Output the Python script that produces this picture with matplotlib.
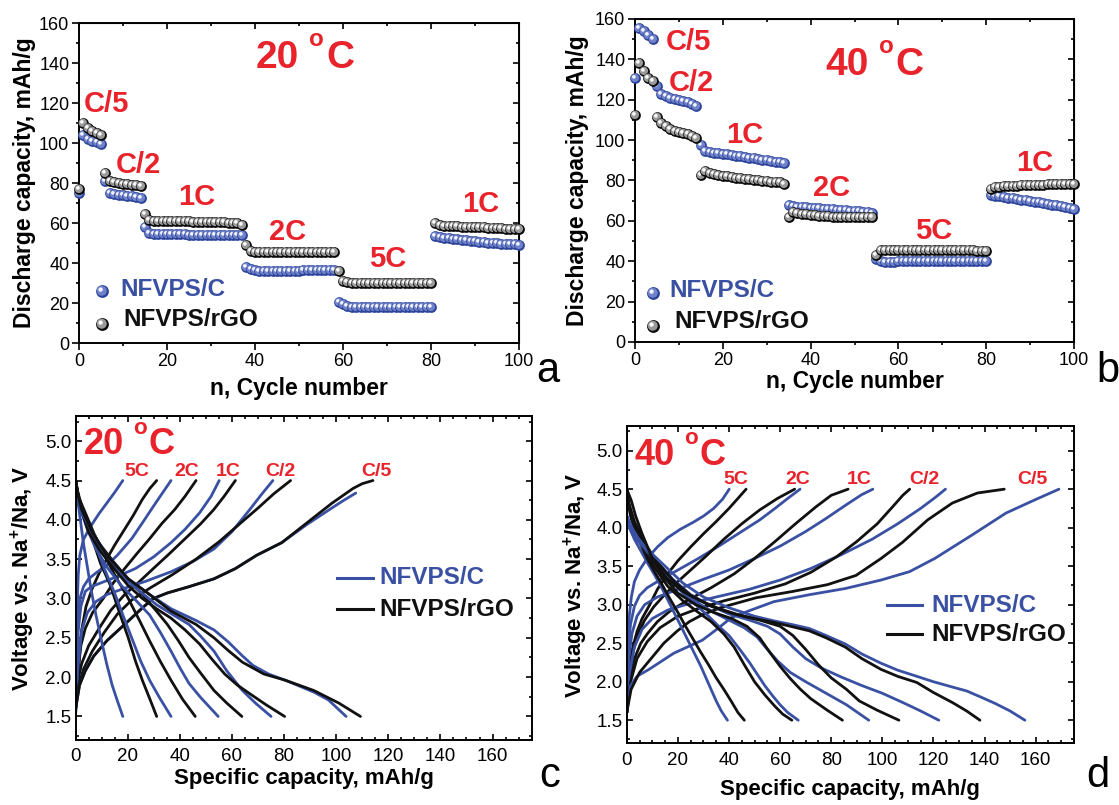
import numpy as np
import matplotlib
matplotlib.use('Agg')
import matplotlib.pyplot as plt
from matplotlib.path import Path
from matplotlib.ticker import MultipleLocator, FormatStrFormatter

plt.rcParams['font.family'] = ['Liberation Sans', 'DejaVu Sans']
plt.rcParams['mathtext.fontset'] = 'custom'
plt.rcParams['mathtext.rm'] = 'Liberation Sans'
plt.rcParams['mathtext.bf'] = 'Liberation Sans:bold'

RED = '#e8232b'
BLUE = '#3a51a3'
BLACK = '#111111'

# ---- rate capability, 20 C (cycle 0 is the first formation point) ----
rate20_nc = ([75] +
             [104, 102, 101, 100.5, 99.5] +
             [81, 75, 74.5, 74, 74, 73.5, 73.5, 73, 72.5] +
             [58, 55, 54.5, 54.5, 54.5, 54.5, 54.5, 54.5, 54.5, 54.5, 54, 54,
              54, 54, 54, 54, 54, 54, 54, 54, 54, 54, 54] +
             [38, 37, 36.5, 36, 36, 36, 36, 36, 36, 36, 36, 36, 36, 36.5, 36.5,
              36.5, 36.5, 36.5, 36.5, 36.5, 36.5] +
             [20.5, 19.5, 18.5, 18, 18, 18, 18, 18, 18, 18, 18, 18, 18, 18, 18,
              18, 18, 18, 18, 18, 18, 18] +
             [53.5, 53, 52.5, 52.5, 52, 52, 51.5, 51.5, 51, 51, 50.5, 50.5, 50,
              50, 50, 49.5, 49.5, 49.5, 49.5, 49])
rate20_ngo = ([77] +
              [110, 107.5, 106, 105, 104] +
              [85, 81, 80.5, 80, 79.5, 79.5, 79, 79, 78.5] +
              [64.5, 61.5, 61, 61, 61, 61, 61, 61, 61, 61, 61, 60.5, 60.5, 60.5,
               60.5, 60.5, 60.5, 60.5, 60.5, 60, 60, 60, 59] +
              [49, 46, 45.5, 45.5, 45.5, 45.5, 45.5, 45.5, 45.5, 45.5, 45.5,
               45.5, 45.5, 45.5, 45.5, 45.5, 45.5, 45.5, 45.5, 45.5, 45.5] +
              [36, 31, 30.5, 30, 30, 30, 30, 30, 30, 30, 30, 30, 30, 30, 30, 30,
               30, 30, 30, 30, 30, 30] +
              [60, 59, 58.5, 58.5, 58.5, 58.5, 58, 58, 58, 58, 58, 58, 57.5,
               57.5, 57.5, 57.5, 57, 57, 57, 57])

# ---- rate capability, 40 C ----
rate40_nc = ([131] +
             [155.5, 154, 152, 150] +
             [127, 123, 122, 121, 120.5, 120, 119.5, 119, 118, 117] +
             [97.5, 94.5, 94, 93.5, 93.5, 93, 93, 92.5, 92, 92, 91.5, 91, 91,
              90.5, 90, 90, 89.5, 89, 89, 88.5] +
             [68, 67.5, 67, 67, 67, 66.5, 66.5, 66.5, 66, 66, 66, 65.5, 65.5,
              65.5, 65, 65, 65, 64.5, 64.5, 64] +
             [41, 40, 39.5, 39.5, 39.5, 40, 40, 40, 40, 40, 40, 40, 40, 40, 40,
              40, 40, 40, 40, 40, 40, 40, 40, 40, 40, 40] +
             [73, 72.5, 72.5, 72, 71.5, 71.5, 71, 70.5, 70.5, 70, 69.5, 69.5, 69,
              68.5, 68, 68, 67.5, 67, 66.5, 66])
rate40_ngo = ([112.5] +
              [138, 134, 131, 129.5] +
              [111.5, 108.5, 107, 105.5, 104.5, 104, 103.5, 103, 102, 101] +
              [82.5, 84.5, 83.5, 83, 82.5, 82, 82, 81.5, 81, 81, 80.5, 80.5, 80,
               80, 79.5, 79.5, 79, 79, 79, 78.5] +
              [62, 64.5, 64, 63.5, 63.5, 63, 63, 62.5, 62.5, 62.5, 62, 62, 62,
               62, 62, 62, 62, 62, 62, 62] +
              [43, 45.5, 45.5, 45.5, 45.5, 45.5, 45.5, 45.5, 45.5, 45.5, 45.5,
               45.5, 45.5, 45.5, 45.5, 45.5, 45.5, 45.5, 45.5, 45.5, 45.5, 45.5,
               45.5, 45, 45, 45] +
              [76, 77, 77, 77.5, 77.5, 77.5, 77.5, 78, 78, 78, 78, 78, 78, 78.5,
               78.5, 78.5, 78.5, 78.5, 78.5, 78.5])

rate_names = ['5C', '2C', '1C', 'C/2', 'C/5']

# ---- charge / discharge profiles, (capacity mAh/g, voltage V), order 5C..C/5 ----
chg20_nc = [
    [(0, 1.55), (0.2, 2.2), (0.5, 2.8), (1.0, 3.3), (1.6, 3.55), (3.0, 3.75), (5.8, 3.92),
     (9, 4.08), (11.9, 4.21), (15, 4.35), (18.1, 4.5)],
    [(0, 1.55), (0.4, 2.3), (1.0, 2.75), (1.6, 3.0), (3, 3.15), (5, 3.25), (8, 3.33),
     (11.9, 3.42), (16, 3.55), (21.5, 3.76), (26, 3.98), (29.8, 4.17), (33.5, 4.35), (36.6, 4.5)],
    [(0, 1.55), (0.5, 2.2), (1.0, 2.59), (2, 2.9), (3.7, 3.09), (6, 3.15), (10.6, 3.21),
     (16, 3.28), (22.9, 3.38), (30, 3.53), (36.6, 3.71), (42, 3.88), (47.6, 4.09), (52, 4.3),
     (55.1, 4.5)],
    [(0, 1.55), (0.8, 2.1), (2.3, 2.59), (4.5, 2.82), (7.8, 2.96), (12, 3.05), (18.8, 3.13),
     (27, 3.22), (36.6, 3.34), (45, 3.47), (53.1, 3.63), (60, 3.85), (66.8, 4.13), (71.5, 4.33),
     (75.7, 4.5)],
    [(0, 1.6), (1.5, 1.9), (3.7, 2.08), (7, 2.27), (11.9, 2.46), (18.8, 2.67), (25.6, 2.88),
     (29.8, 3.0), (35.2, 3.07), (43.5, 3.15), (53.1, 3.25), (61.3, 3.38), (69.5, 3.55),
     (79.1, 3.71), (88.7, 3.94), (98.3, 4.15), (103, 4.25), (107.5, 4.34)],
]
chg20_ngo = [
    [(0, 1.6), (0.8, 2.0), (2.3, 2.6), (4, 2.9), (6.4, 3.13), (9, 3.32), (11.9, 3.5),
     (15, 3.68), (18.8, 3.88), (22, 4.05), (25.6, 4.26), (28.5, 4.4), (31.1, 4.5)],
    [(0, 1.6), (1, 2.1), (2, 2.4), (3.7, 2.62), (6.5, 2.82), (10.6, 3.0), (14.5, 3.2),
     (18.8, 3.38), (23.5, 3.57), (28.4, 3.76), (33, 3.95), (38, 4.13), (42, 4.3), (46.2, 4.5)],
    [(0, 1.6), (0.8, 1.95), (2.3, 2.17), (5, 2.4), (9.2, 2.63), (13.5, 2.85), (18.8, 3.05),
     (24, 3.2), (29.8, 3.38), (36, 3.57), (42, 3.76), (48, 3.95), (53, 4.13), (57, 4.3),
     (61.3, 4.5)],
    [(0, 1.6), (1.2, 1.9), (3, 2.1), (6.4, 2.33), (11, 2.57), (16, 2.8), (21.5, 2.98),
     (28.4, 3.13), (37, 3.3), (46.2, 3.5), (55, 3.72), (63, 3.95), (70, 4.15), (76, 4.33),
     (82.5, 4.5)],
    [(0, 1.6), (1.5, 1.9), (3.7, 2.08), (7, 2.27), (11.9, 2.46), (18.8, 2.67), (25.6, 2.88),
     (29.8, 3.0), (35.2, 3.07), (43.5, 3.15), (53.1, 3.25), (61.3, 3.38), (69.5, 3.55),
     (79.1, 3.71), (88.7, 3.96), (98.3, 4.21), (106.5, 4.4), (110, 4.46), (114.1, 4.5)],
]
dis20_nc = [
    [(0, 5.08), (0, 4.47), (0.6, 4.3), (1.6, 4.05), (3, 3.7), (4.4, 3.42), (6, 3.1),
     (7.8, 2.79), (9.8, 2.48), (11.9, 2.17), (14, 1.9), (16, 1.7), (18.1, 1.5)],
    [(0, 4.45), (1, 4.3), (2.3, 4.17), (4.5, 3.95), (7.8, 3.67), (11, 3.38), (14.7, 3.09),
     (18, 2.8), (21.5, 2.5), (25, 2.2), (28.4, 1.96), (32, 1.75), (36.6, 1.5)],
    [(0, 4.45), (1, 4.25), (2.3, 4.09), (4.5, 3.88), (7.8, 3.63), (12, 3.4), (17.4, 3.17),
     (23, 2.98), (28.4, 2.79), (32.5, 2.57), (36.6, 2.33), (40, 2.12), (43.5, 1.92),
     (48, 1.74), (54.7, 1.5)],
    [(0, 4.45), (1, 4.27), (2.3, 4.13), (4.5, 3.93), (7.8, 3.71), (12.5, 3.48), (18.8, 3.25),
     (25, 3.08), (31.1, 2.92), (37, 2.8), (43.5, 2.67), (48, 2.52), (53.1, 2.33), (58, 2.08),
     (64, 1.83), (69, 1.67), (75, 1.5)],
    [(0, 4.45), (1, 4.25), (2.3, 4.1), (6.4, 3.84), (11.9, 3.55), (20.2, 3.25), (28.4, 3.05),
     (36.6, 2.87), (46.2, 2.72), (53.1, 2.6), (58.5, 2.45), (64, 2.27), (68, 2.15), (74, 2.04),
     (80.5, 1.96), (91.4, 1.81), (97, 1.71), (103.8, 1.5)],
]
dis20_ngo = [
    [(0, 4.5), (0.5, 4.4), (1.6, 4.26), (3.5, 4.02), (6.4, 3.76), (9.5, 3.45), (13.3, 3.17),
     (16.5, 2.85), (20.2, 2.5), (23, 2.2), (25.6, 1.96), (28.5, 1.72), (31.1, 1.5)],
    [(0, 4.5), (1, 4.3), (3.7, 4.09), (7, 3.83), (10.6, 3.58), (15, 3.3), (20.2, 3.0),
     (24.5, 2.72), (28.4, 2.46), (32.5, 2.2), (36.6, 1.96), (41, 1.72), (45.9, 1.5)],
    [(0, 4.5), (1.5, 4.2), (5, 3.92), (9.5, 3.68), (14.7, 3.46), (20, 3.25), (25.6, 3.05),
     (30.5, 2.86), (35.2, 2.67), (39.5, 2.46), (43.5, 2.25), (48, 2.05), (53.1, 1.83),
     (58, 1.67), (63.8, 1.5)],
    [(0, 4.5), (1.5, 4.2), (5, 3.84), (9.5, 3.6), (14.7, 3.38), (20, 3.17), (25.6, 3.0),
     (31, 2.87), (36.6, 2.75), (42, 2.6), (47.6, 2.42), (52.5, 2.22), (57.2, 2.04), (62, 1.9),
     (66.8, 1.79), (73, 1.65), (80.2, 1.5)],
    [(0, 4.5), (1, 4.3), (2.3, 4.13), (6.4, 3.84), (11.9, 3.55), (20.2, 3.25), (28.4, 3.05),
     (36.6, 2.84), (46.2, 2.67), (53.1, 2.5), (58.5, 2.34), (64, 2.19), (72.2, 2.04),
     (80.5, 1.96), (91.4, 1.83), (101, 1.67), (109.3, 1.5)],
]

chg40_nc = [
    [(0, 1.6), (0.3, 2.3), (0.8, 2.8), (1.8, 3.1), (3, 3.3), (5, 3.45), (8, 3.6), (12, 3.75),
     (16, 3.87), (21, 3.98), (26, 4.07), (30, 4.15), (34, 4.25), (37.5, 4.37), (40.1, 4.5)],
    [(0, 1.6), (0.5, 2.4), (1.5, 2.75), (3, 2.98), (5, 3.12), (8, 3.22), (13, 3.32), (20, 3.45),
     (28, 3.6), (36, 3.76), (44, 3.93), (52, 4.1), (58, 4.25), (63, 4.38), (67.8, 4.5)],
    [(0, 1.6), (0.8, 2.3), (2, 2.62), (4, 2.85), (7, 3.0), (12, 3.1), (20, 3.2), (30, 3.33),
     (40, 3.45), (50, 3.6), (60, 3.76), (70, 3.95), (78, 4.12), (86, 4.3), (92, 4.43),
     (96.3, 4.5)],
    [(0, 1.6), (1, 2.1), (3, 2.45), (6, 2.68), (10, 2.82), (16, 2.93), (25, 3.02), (35, 3.1),
     (48, 3.2), (60, 3.32), (72, 3.47), (84, 3.65), (96, 3.85), (106, 4.05), (115, 4.25),
     (121, 4.4), (124.7, 4.5)],
    [(0, 1.6), (1.5, 1.95), (4, 2.07), (8.7, 2.16), (18.4, 2.37), (29.6, 2.54), (36, 2.7),
     (40.8, 2.83), (47.8, 2.92), (57.6, 3.04), (71.5, 3.13), (85.5, 3.21), (99.5, 3.32),
     (110.7, 3.43), (120.5, 3.6), (134.4, 3.89), (148.4, 4.19), (159.6, 4.36), (169.1, 4.5)],
]
chg40_ngo = [
    [(0, 1.6), (0.8, 2.1), (2, 2.4), (4, 2.65), (6, 2.82), (9, 3.0), (12, 3.2), (16, 3.4),
     (20, 3.57), (25, 3.75), (30, 3.92), (35, 4.08), (40, 4.25), (43.5, 4.38), (46.7, 4.5)],
    [(0, 1.6), (1, 2.05), (2.5, 2.4), (4.5, 2.62), (7, 2.8), (10.5, 2.97), (14, 3.1),
     (19, 3.27), (25, 3.45), (31, 3.63), (38, 3.85), (45, 4.05), (52, 4.23), (59, 4.38),
     (65.7, 4.5)],
    [(0, 1.6), (1, 2.0), (3, 2.3), (5.5, 2.5), (8, 2.62), (12, 2.78), (17, 2.92), (25, 3.08),
     (33, 3.22), (42, 3.4), (50, 3.6), (58, 3.82), (66, 4.05), (74, 4.27), (80, 4.42),
     (86.6, 4.5)],
    [(0, 1.6), (1.5, 2.0), (4, 2.3), (8, 2.52), (13, 2.7), (20, 2.85), (28, 2.95), (38, 3.05),
     (50, 3.15), (62, 3.27), (72, 3.42), (82, 3.62), (90, 3.82), (98, 4.05), (104, 4.27),
     (108, 4.42), (110.7, 4.5)],
    [(0, 1.6), (1.7, 1.9), (5, 2.12), (10, 2.32), (14.5, 2.5), (19.8, 2.66), (24.5, 2.78),
     (29.6, 2.87), (36.6, 2.96), (50.6, 3.09), (64.6, 3.17), (78.5, 3.26), (89.7, 3.38),
     (99.5, 3.6), (107.9, 3.81), (117.7, 4.1), (127.4, 4.32), (137.2, 4.45), (147.7, 4.5)],
]
dis40_nc = [
    [(0, 5.08), (0, 4.15), (1, 4.0), (3, 3.85), (5.5, 3.7), (8, 3.55), (11, 3.38), (14, 3.2),
     (17, 3.0), (20, 2.8), (23, 2.6), (26, 2.4), (29, 2.2), (31, 2.05), (33, 1.9), (35, 1.75),
     (37, 1.62), (39.4, 1.5)],
    [(0, 4.15), (1.5, 4.0), (4, 3.85), (8, 3.67), (12, 3.5), (17, 3.32), (22, 3.15), (27, 3.0),
     (32, 2.85), (36, 2.72), (40, 2.6), (44, 2.43), (48, 2.25), (51, 2.1), (54, 1.95),
     (57, 1.82), (60, 1.7), (63, 1.6), (67.1, 1.5)],
    [(0, 4.15), (2, 3.98), (5, 3.82), (10, 3.6), (15, 3.4), (21, 3.2), (28, 3.02), (34, 2.9),
     (40, 2.8), (46, 2.7), (51, 2.58), (55, 2.42), (59, 2.27), (64, 2.12), (70, 2.0),
     (78, 1.85), (86, 1.7), (94.7, 1.5)],
    [(0, 4.15), (2, 4.0), (6, 3.78), (12, 3.55), (18, 3.33), (25, 3.13), (32, 3.0), (40, 2.88),
     (48, 2.8), (55, 2.72), (60, 2.62), (65, 2.45), (70, 2.3), (76, 2.18), (84, 2.06),
     (92, 1.95), (100, 1.85), (108, 1.73), (115, 1.62), (122.1, 1.5)],
    [(0, 4.15), (3, 3.92), (8, 3.72), (15, 3.5), (22, 3.28), (30, 3.1), (40, 2.96), (50, 2.85),
     (57.6, 2.79), (65, 2.74), (71.5, 2.69), (78, 2.6), (85.5, 2.49), (92, 2.36), (99.5, 2.24),
     (106, 2.15), (113.5, 2.07), (120, 2.0), (127.5, 1.93), (133, 1.88), (138.6, 1.8),
     (144, 1.72), (150, 1.62), (155.8, 1.5)],
]
dis40_ngo = [
    [(0, 4.5), (0.5, 4.35), (1.5, 4.15), (3, 4.0), (5, 3.82), (8, 3.6), (11, 3.42), (14, 3.25),
     (17, 3.07), (20, 2.9), (23, 2.72), (26, 2.55), (29, 2.38), (32, 2.22), (35, 2.05),
     (38, 1.9), (41, 1.74), (43.5, 1.6), (46, 1.5)],
    [(0, 4.5), (0.7, 4.3), (2, 4.1), (4, 3.92), (7, 3.7), (11, 3.48), (16, 3.24), (22, 3.05),
     (28, 2.9), (33, 2.78), (38, 2.62), (42, 2.45), (46, 2.22), (50, 2.0), (54, 1.83),
     (58, 1.68), (61, 1.58), (64.6, 1.5)],
    [(0, 4.5), (0.8, 4.3), (2.5, 4.08), (5, 3.9), (9, 3.65), (14, 3.38), (20, 3.15), (27, 3.0),
     (34, 2.9), (41, 2.82), (47, 2.72), (52, 2.57), (56, 2.38), (60, 2.2), (64, 2.04),
     (68, 1.9), (72, 1.78), (78, 1.64), (84.4, 1.5)],
    [(0, 4.5), (1, 4.3), (3, 4.08), (7, 3.8), (12, 3.55), (18, 3.32), (25, 3.12), (33, 2.98),
     (42, 2.88), (52, 2.8), (60, 2.72), (65, 2.6), (70, 2.42), (75, 2.22), (80, 2.05),
     (86, 1.9), (91, 1.75), (98, 1.63), (106.5, 1.5)],
    [(0, 4.5), (1.7, 4.36), (3.5, 4.15), (5.9, 3.93), (10, 3.6), (15.7, 3.34), (22, 3.17),
     (29.6, 3.04), (36, 2.95), (43.6, 2.87), (50, 2.82), (57.6, 2.77), (64, 2.72), (71.5, 2.66),
     (78, 2.57), (85.5, 2.45), (92, 2.3), (99.5, 2.16), (106, 2.07), (113.5, 1.99),
     (120, 1.86), (127.4, 1.73), (133, 1.62), (138.2, 1.5)],
]


# shaded "ball" markers: dark disc, lighter inner disc, small highlight
def offset_disc(cx, cy, r):
    p = Path.circle((cx, cy), r)
    return p, (2 * np.abs(p.vertices).max()) ** 2

MID_PATH, MID_K = offset_disc(-0.06, 0.06, 0.39)
HI_PATH, HI_K = offset_disc(-0.15, 0.15, 0.17)

BLUE_BALL = ('#2c439c', '#7083c8', '#f2f4ff')
BLACK_BALL = ('#0a0a0a', '#9a9a9a', '#fafafa')


def balls(ax, xs, ys, tones, size=60, transform=None):
    tr = ax.transData if transform is None else transform
    for x, y in zip(xs, ys):
        ax.scatter([x], [y], s=size, c=tones[0], marker='o', linewidths=0,
                   transform=tr, clip_on=False, zorder=3)
        ax.scatter([x], [y], s=size * MID_K, c=tones[1], marker=MID_PATH,
                   linewidths=0, transform=tr, clip_on=False, zorder=3)
        ax.scatter([x], [y], s=size * HI_K, c=tones[2], marker=HI_PATH,
                   linewidths=0, transform=tr, clip_on=False, zorder=3)


def frame(ax):
    for s in ax.spines.values():
        s.set_linewidth(1.4)


def cycle_axes(ax, ylab_x, xlab_y):
    ax.set_xlim(0, 100)
    ax.set_ylim(0, 160)
    for a in (ax.xaxis, ax.yaxis):
        a.set_major_locator(MultipleLocator(20))
        a.set_minor_locator(MultipleLocator(10))
    ax.tick_params(which='both', direction='out', labelsize=13, width=1.2, pad=2)
    ax.tick_params(which='major', length=5)
    ax.tick_params(which='minor', length=2.5)
    top = ax.secondary_xaxis('top')
    right = ax.secondary_yaxis('right')
    for sec, a in ((top, top.xaxis), (right, right.yaxis)):
        a.set_major_locator(MultipleLocator(20))
        a.set_minor_locator(MultipleLocator(10))
        sec.tick_params(which='both', direction='in', width=1.2,
                        labeltop=False, labelright=False)
        sec.tick_params(which='major', length=4)
        sec.tick_params(which='minor', length=2.5)
    ax.set_ylabel('Discharge capacity, mAh/g', fontsize=16.5, fontweight='bold')
    ax.set_xlabel('n, Cycle number', fontsize=16.5, fontweight='bold')
    ax.yaxis.set_label_coords(ylab_x, 0.5)
    ax.xaxis.set_label_coords(0.5, xlab_y)
    frame(ax)


def volt_axes(ax, ylab_x, xlab_y):
    ax.set_xlim(0, 175)
    ax.set_ylim(1.2, 5.32)
    ax.xaxis.set_major_locator(MultipleLocator(20))
    ax.xaxis.set_minor_locator(MultipleLocator(5))
    ax.yaxis.set_major_locator(MultipleLocator(0.5))
    ax.yaxis.set_minor_locator(MultipleLocator(0.25))
    ax.yaxis.set_major_formatter(FormatStrFormatter('%.1f'))
    ax.tick_params(which='both', direction='in', top=True, right=True,
                   labelsize=13.5, width=1.2)
    ax.tick_params(which='major', length=4.5)
    ax.tick_params(which='minor', length=2.5)
    ax.tick_params(axis='x', pad=6)
    ax.tick_params(axis='y', pad=3)
    ax.set_ylabel(r'Voltage vs. Na$^{\mathbf{+}}$/Na, V', fontsize=16, fontweight='bold')
    ax.set_xlabel('Specific capacity, mAh/g', fontsize=16, fontweight='bold')
    ax.yaxis.set_label_coords(ylab_x, 0.5)
    ax.xaxis.set_label_coords(0.5, xlab_y)
    frame(ax)


def red(ax, x, y, s, size):
    ax.text(x, y, s, color=RED, fontsize=size, fontweight='bold',
            ha='left', va='baseline', zorder=5)


def temp_label(ax, x, y, num, size):
    # "20 oC" with a small raised "o" in place of the degree sign
    kw = dict(color=RED, fontweight='bold', ha='left', va='baseline',
              textcoords='offset points', zorder=5)
    ax.annotate(num, (x, y), xytext=(0, 0), fontsize=size, **kw)
    ax.annotate('o', (x, y), xytext=(1.37 * size, 0.56 * size),
                fontsize=0.62 * size, **kw)
    ax.annotate('C', (x, y), xytext=(1.8 * size, 0), fontsize=size, **kw)


fig = plt.figure(figsize=(11.19, 8.05), dpi=100)
ax_a = fig.add_axes([0.0706, 0.5739, 0.3932, 0.3975])
ax_b = fig.add_axes([0.5675, 0.5752, 0.3923, 0.4012])
ax_c = fig.add_axes([0.0676, 0.0807, 0.4075, 0.4025])
ax_d = fig.add_axes([0.5601, 0.0766, 0.3997, 0.3942])

# (a) 20 C cycling
cyc20 = np.arange(len(rate20_nc))
balls(ax_a, cyc20, rate20_nc, BLUE_BALL)
balls(ax_a, cyc20, rate20_ngo, BLACK_BALL)
cycle_axes(ax_a, -0.098, -0.106)
temp_label(ax_a, 40.2, 137.5, '20', 28)
for x, y, s in [(1.1, 115.5, 'C/5'), (8.4, 85, 'C/2'), (22.5, 69, '1C'),
                (43.2, 51.5, '2C'), (66, 38, '5C'), (87, 65.5, '1C')]:
    red(ax_a, x, y, s, 21)
balls(ax_a, [0.053], [0.162], BLUE_BALL, size=85, transform=ax_a.transAxes)
balls(ax_a, [0.053], [0.058], BLACK_BALL, size=85, transform=ax_a.transAxes)
ax_a.text(0.093, 0.147, 'NFVPS/C', color=BLUE, fontsize=17.5, fontweight='bold',
          transform=ax_a.transAxes, va='baseline')
ax_a.text(0.100, 0.053, 'NFVPS/rGO', color=BLACK, fontsize=17.5, fontweight='bold',
          transform=ax_a.transAxes, va='baseline')

# (b) 40 C cycling
cyc40 = np.arange(len(rate40_nc))
balls(ax_b, cyc40, rate40_nc, BLUE_BALL)
balls(ax_b, cyc40, rate40_ngo, BLACK_BALL)
cycle_axes(ax_b, -0.105, -0.087)
temp_label(ax_b, 43.4, 132.5, '40', 28)
for x, y, s in [(6.9, 144.6, 'C/5'), (7.7, 124.4, 'C/2'), (20.7, 98.5, '1C'),
                (40.5, 72.5, '2C'), (63.7, 50.9, '5C'), (86.8, 84.9, '1C')]:
    red(ax_b, x, y, s, 21)
balls(ax_b, [0.041], [0.152], BLUE_BALL, size=85, transform=ax_b.transAxes)
balls(ax_b, [0.041], [0.050], BLACK_BALL, size=85, transform=ax_b.transAxes)
ax_b.text(0.079, 0.139, 'NFVPS/C', color=BLUE, fontsize=17.5, fontweight='bold',
          transform=ax_b.transAxes, va='baseline')
ax_b.text(0.089, 0.042, 'NFVPS/rGO', color=BLACK, fontsize=17.5, fontweight='bold',
          transform=ax_b.transAxes, va='baseline')


def profiles(ax, curves_nc, curves_ngo):
    for c_nc, c_ngo in zip(curves_nc, curves_ngo):
        for pts, col in ((c_nc, BLUE), (c_ngo, BLACK)):
            q, v = zip(*pts)
            ax.plot(q, v, color=col, lw=2.0, solid_capstyle='round',
                    solid_joinstyle='round', zorder=2)


def line_key(ax, y_nc, y_ngo, x0, x1, xt):
    for y, col, lab in ((y_nc, BLUE, 'NFVPS/C'), (y_ngo, BLACK, 'NFVPS/rGO')):
        ax.plot([x0, x1], [y, y], color=col, lw=2.2, transform=ax.transAxes)
        ax.text(xt, y, lab, color=col, fontsize=17.5, fontweight='bold',
                transform=ax.transAxes, va='center')


# (c) 20 C profiles
profiles(ax_c, chg20_nc, chg20_ngo)
profiles(ax_c, dis20_nc, dis20_ngo)
volt_axes(ax_c, -0.084, -0.086)
temp_label(ax_c, 3, 4.84, '20', 26)
for x, s in zip([18.8, 38, 53.7, 72.9, 109.5], rate_names):
    red(ax_c, x, 4.56, s, 14)
line_key(ax_c, 0.501, 0.404, 0.574, 0.652, 0.667)

# (d) 40 C profiles
profiles(ax_d, chg40_nc, chg40_ngo)
profiles(ax_d, dis40_nc, dis40_ngo)
volt_axes(ax_d, -0.082, -0.113)
temp_label(ax_d, 3, 4.82, '40', 26)
for x, s in zip([38, 62, 86.2, 110.7, 152.6], rate_names):
    red(ax_d, x, 4.57, s, 14)
line_key(ax_d, 0.435, 0.344, 0.581, 0.661, 0.680)

for x, y, s in [(548, 382, 'a'), (1108, 382, 'b'), (550, 787, 'c'), (1098, 787, 'd')]:
    fig.text(x / 1119, 1 - y / 805, s, fontsize=30, ha='center', va='baseline')

fig.savefig('out.png', dpi=100)
